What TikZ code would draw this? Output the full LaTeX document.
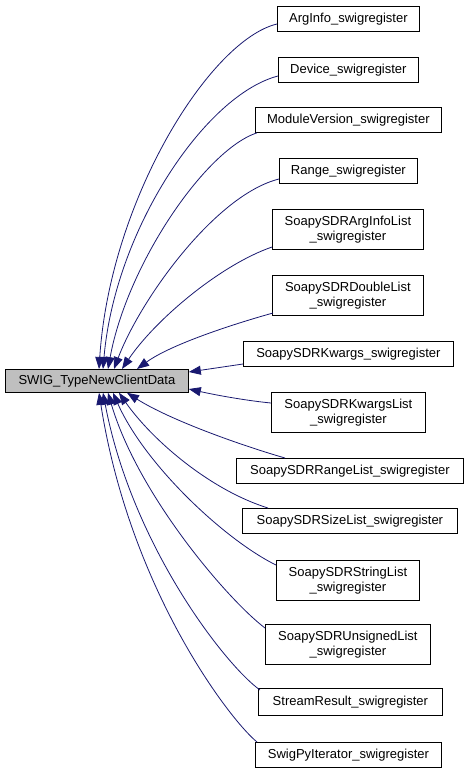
\documentclass[tikz,border=0pt]{standalone}
\usepackage{fontspec}
\setmainfont{Liberation Sans}
\usetikzlibrary{arrows.meta}
\definecolor{edgeblue}{HTML}{191970}
\definecolor{maingray}{HTML}{BFBFBF}
\tikzset{
  box/.style={draw=black, line width=0.8pt, fill=white, anchor=north west, inner sep=0pt,
    align=center, font=\fontsize{13}{15}\selectfont, minimum height=25pt},
  twoline/.style={minimum height=40pt},
  mainbox/.style={box, fill=maingray, minimum height=23pt},
  edge/.style={draw=edgeblue, line width=0.8pt, {Triangle[length=12pt,width=9pt]}-},
}
\begin{document}
\begin{tikzpicture}[x=1pt,y=-1pt]
\useasboundingbox (0,0) rectangle (465,773);
\node[mainbox, minimum width=183pt] (m) at (5,369) {SWIG\_TypeNewClientData};
\node[box, minimum width=142pt] (t1) at (277,6) {ArgInfo\_swigregister};
\node[box, minimum width=140pt] (t2) at (278,57) {Device\_swigregister};
\node[box, minimum width=186pt] (t3) at (255,107) {ModuleVersion\_swigregister};
\node[box, minimum width=138pt] (t4) at (279,158) {Range\_swigregister};
\node[box, twoline, minimum width=151pt] (t5) at (272,209) {SoapySDRArgInfoList\\\_swigregister};
\node[box, twoline, minimum width=151pt] (t6) at (272,275) {SoapySDRDoubleList\\\_swigregister};
\node[box, minimum width=210pt] (t7) at (243,341) {SoapySDRKwargs\_swigregister};
\node[box, twoline, minimum width=154pt] (t8) at (271,392) {SoapySDRKwargsList\\\_swigregister};
\node[box, minimum width=227pt] (t9) at (236,458) {SoapySDRRangeList\_swigregister};
\node[box, minimum width=215pt] (t10) at (242,508) {SoapySDRSizeList\_swigregister};
\node[box, twoline, minimum width=143pt] (t11) at (276,560) {SoapySDRStringList\\\_swigregister};
\node[box, twoline, minimum width=165pt] (t12) at (265,624) {SoapySDRUnsignedList\\\_swigregister};
\node[box, minimum width=184pt, minimum height=27pt] (t13) at (258,688) {StreamResult\_swigregister};
\node[box, minimum width=186pt] (t14) at (255,742) {SwigPyIterator\_swigregister};

\path[edge] ([shift={(94,0)}]m.north west) .. controls (110,200) and (210,40) .. ([shift={(0,18)}]t1.north west);
\path[edge] ([shift={(98,0)}]m.north west) .. controls (115,230) and (205,95) .. ([shift={(0,19)}]t2.north west);
\path[edge] ([shift={(103,0)}]m.north west) .. controls (127,265) and (205,150) .. ([shift={(2,0)}]t3.south west);
\path[edge] ([shift={(109,0)}]m.north west) .. controls (140,300) and (215,195) .. ([shift={(0,21)}]t4.north west);
\path[edge] ([shift={(117,0)}]m.north west) .. controls (155,320) and (220,265) .. ([shift={(0,38)}]t5.north west);
\path[edge] ([shift={(132,0)}]m.north west) .. controls (170,345) and (230,325) .. ([shift={(1,38)}]t6.north west);
\path[edge] ([shift={(0,3)}]m.north east) -- ([shift={(0,23)}]t7.north west);
\path[edge] ([shift={(0,20)}]m.north east) .. controls (220,396) and (250,401) .. ([shift={(0,11)}]t8.north west);
\path[edge] ([shift={(122,0)}]m.south west) .. controls (170,420) and (240,445) .. ([shift={(49,0)}]t9.north west);
\path[edge] ([shift={(114,0)}]m.south west) .. controls (152,440) and (210,490) .. ([shift={(26,0)}]t10.north west);
\path[edge] ([shift={(108,0)}]m.south west) .. controls (145,465) and (225,540) .. ([shift={(0,5)}]t11.north west);
\path[edge] ([shift={(103,0)}]m.south west) .. controls (138,495) and (228,600) .. ([shift={(0,4)}]t12.north west);
\path[edge] ([shift={(98,0)}]m.south west) .. controls (132,545) and (225,665) .. ([shift={(2,2)}]t13.north west);
\path[edge] ([shift={(94,0)}]m.south west) .. controls (130,590) and (230,720) .. ([shift={(2,0)}]t14.north west);
\end{tikzpicture}
\end{document}
